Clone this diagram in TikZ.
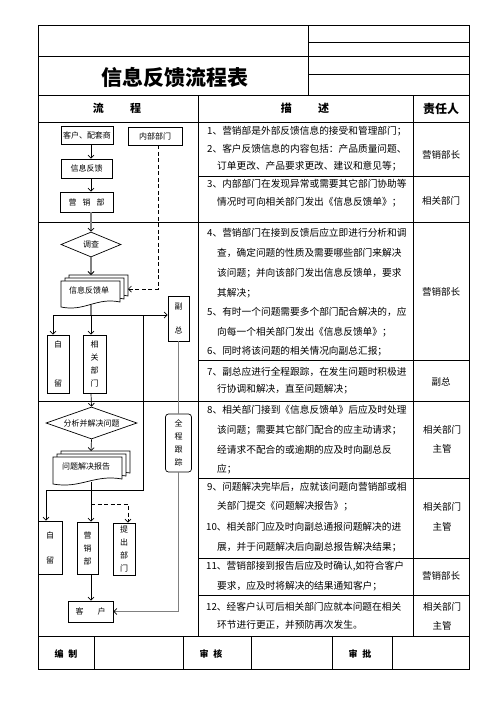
\documentclass[tikz,border=0pt]{standalone}
\usepackage{fontspec}
\setmainfont{Noto Sans CJK SC}
\usetikzlibrary{shapes.geometric,arrows.meta}

\tikzset{
  tbl/.style={line width=0.8pt},
  fline/.style={line width=0.7pt},
  arr/.style={fline, -{Straight Barb[length=3pt,width=6pt]}},
  gline/.style={line width=1.5pt, draw=gray},
  garr/.style={gline, -{Straight Barb[length=3pt,width=6pt,line width=0.8pt,color=black]}},
  dline/.style={fline, dash pattern=on 4pt off 2.5pt},
  fbox/.style={draw, fline, inner sep=0pt, align=center, font=\fontsize{8}{13}\selectfont},
  fdiam/.style={draw, fline, diamond, aspect=2.5, inner sep=0pt, font=\fontsize{8}{8}\selectfont},
  doctext/.style={inner sep=0pt, font=\fontsize{8}{8}\selectfont},
  desc/.style={anchor=west, inner sep=0pt, font=\fontsize{9.7}{9.7}\selectfont},
  duty/.style={inner sep=0pt, font=\fontsize{9.5}{9.5}\selectfont},
  head/.style={inner sep=0pt, font=\fontsize{11}{11}\bfseries},
  foot/.style={inner sep=0pt, font=\fontsize{9}{9}\bfseries},
}

% stacked documents: name, x, y (top left of front sheet), width, height, text
\newcommand{\docstack}[6]{%
  \foreach \dx/\dy in {8/-6,4/-3,0/0}{%
    \draw[fline, fill=white] ({#2+\dx},{#3+\dy}) -- ({#2+\dx+#4},{#3+\dy})
      -- ({#2+\dx+#4},{#3+\dy+#5-5})
      .. controls ({#2+\dx+0.6*#4},{#3+\dy+#5-10}) and ({#2+\dx+0.4*#4},{#3+\dy+#5+5}) .. ({#2+\dx},{#3+\dy+#5})
      -- cycle;
  }
  \node[doctext] (#1) at ({#2+#4/2-1.5},{#3+#5/2-4}) {#6};
  \coordinate (#1-top) at ({#2+8+#4/2},{#3-6});
  \coordinate (#1-bot) at ({#2+#4/2},{#3+#5-2});
  \coordinate (#1-right) at ({#2+#4+8},{#3+#5/2-5});
}

\begin{document}
\begin{tikzpicture}[x=1pt,y=-1pt]
  \useasboundingbox (0,0) rectangle (496,702);

  % table frame
  \draw[tbl] (38,25) rectangle (469,669);
  \draw[tbl] (308,25) -- (308,95);
  \draw[tbl] (308,42.5) -- (469,42.5);
  \draw[tbl] (38,56) -- (469,56);
  \draw[tbl] (308,74) -- (469,74);
  \draw[tbl] (38,95) -- (469,95);
  \draw[tbl] (38,122) -- (469,122);
  \draw[tbl] (198,95) -- (198,636);
  \draw[tbl] (413,95) -- (413,636);
  \draw[tbl] (38,222) -- (469,222);
  \draw[tbl] (38,401) -- (469,401);
  \foreach \yy in {176,360,478,558,595}
    \draw[tbl] (198,\yy) -- (469,\yy);
  \draw[tbl] (38,636) -- (469,636);
  \foreach \xx in {94,183,251,332,392}
    \draw[tbl] (\xx,636) -- (\xx,669);

  % title and heads
  \node[inner sep=0pt, font=\fontsize{21}{21}\bfseries] (title) at (175,77) {信息反馈流程表};
  \node[head] (hflow) at (117,108.5) {流\hspace{2.4em}程};
  \node[head] (hdesc) at (305,108.5) {描\hspace{2.4em}述};
  \node[head, font=\fontsize{12}{12}\bfseries] (hduty) at (441,108.5) {责任人};

  % descriptions
  \node[desc] (t1) at (207,131) {1、营销部是外部反馈信息的接受和管理部门；};
  \node[desc] (t2) at (207,148.5) {2、客户反馈信息的内容包括：产品质量问题、};
  \node[desc] (t2b) at (217,166) {订单更改、产品要求更改、建议和意见等；};
  \node[duty] (d1) at (441,155) {营销部长};

  \node[desc] (t3) at (207,183.5) {3、内部部门在发现异常或需要其它部门协助等};
  \node[desc] (t3b) at (217,202) {情况时可向相关部门发出《信息反馈单》；};
  \node[duty] (d2) at (441,201) {相关部门};

  \node[desc] (t4) at (207,233) {4、营销部门在接到反馈后应立即进行分析和调};
  \node[desc] (t4b) at (217,253) {查，确定问题的性质及需要哪些部门来解决};
  \node[desc] (t4c) at (217,273) {该问题；并向该部门发出信息反馈单，要求};
  \node[desc] (t4d) at (217,293) {其解决；};
  \node[desc] (t5) at (207,312) {5、有时一个问题需要多个部门配合解决的，应};
  \node[desc] (t5b) at (217,332) {向每一个相关部门发出《信息反馈单》；};
  \node[desc] (t6) at (207,351) {6、同时将该问题的相关情况向副总汇报；};
  \node[duty] (d3) at (441,292) {营销部长};

  \node[desc] (t7) at (207,371.5) {7、副总应进行全程跟踪，在发生问题时积极进};
  \node[desc] (t7b) at (217,389) {行协调和解决，直至问题解决；};
  \node[duty] (d4) at (441,381.5) {副总};

  \node[desc] (t8) at (207,410) {8、相关部门接到《信息反馈单》后应及时处理};
  \node[desc] (t8b) at (217,430) {该问题；需要其它部门配合的应主动请求；};
  \node[desc] (t8c) at (217,450) {经请求不配合的或逾期的应及时向副总反};
  \node[desc] (t8d) at (217,469) {应；};
  \node[duty] (d5) at (442,430) {相关部门};
  \node[duty] (d5b) at (442,449) {主管};

  \node[desc] (t9) at (207,486.5) {9、问题解决完毕后，应就该问题向营销部或相};
  \node[desc] (t9b) at (217,506.5) {关部门提交《问题解决报告》；};
  \node[desc] (t10) at (206,527) {10、相关部门应及时向副总通报问题解决的进};
  \node[desc] (t10b) at (217,547) {展，并于问题解决后向副总报告解决结果；};
  \node[duty] (d6) at (442,506.5) {相关部门};
  \node[duty] (d6b) at (442,526.5) {主管};

  \node[desc] (t11) at (206,566.5) {11、营销部接到报告后应及时确认,如符合客户};
  \node[desc] (t11b) at (217,586.5) {要求，应及时将解决的结果通知客户；};
  \node[duty] (d7) at (441,576) {营销部长};

  \node[desc] (t12) at (206,607) {12、经客户认可后相关部门应就本问题在相关};
  \node[desc] (t12b) at (217,625) {环节进行更正，并预防再次发生。};
  \node[duty] (d8) at (442,607) {相关部门};
  \node[duty] (d8b) at (442,626) {主管};

  % sign-off row
  \node[foot] (fbz) at (66,654) {编\hspace{5pt}制};
  \node[foot] (fsh) at (211,654) {审\hspace{5pt}核};
  \node[foot] (fsp) at (360,654) {审\hspace{5pt}批};

  % flow chart
  \coordinate (trunk) at (91,0);
  \coordinate (dashx) at (158,0);
  \node[fbox, minimum width=52pt, minimum height=18pt] (kehu) at (87,135) {客户、配套商};
  \node[fbox, minimum width=54pt, minimum height=18pt] (nbbm) at (155,136) {内部部门};
  \node[fbox, minimum width=51pt, minimum height=19pt] (xxfk) at (86.5,168.5) {信息反馈};
  \node[fbox, minimum width=53pt, minimum height=20pt] (yxb) at (86.5,202) {营\hspace{6pt}销\hspace{6pt}部};
  \node[fdiam, minimum width=60pt, minimum height=25pt] (diaocha) at (91,244.5) {调查};
  \docstack{fbsheet}{61}{281}{59}{26}{信息反馈单}
  \node[fbox, minimum width=21pt, minimum height=45pt] (fz) at (178.5,318.5) {副\\[11pt]总};
  \node[fbox, minimum width=22pt, minimum height=58pt] (zl1) at (58,364) {自\\[26pt]留};
  \node[fbox, minimum width=23pt, minimum height=58pt] (xgbm) at (94.5,364) {相\\关\\部\\门};
  \node[fdiam, minimum width=91pt, minimum height=32pt] (fenxi) at (91.5,423) {分析并解决问题};
  \docstack{report}{53}{457}{69}{27}{问题解决报告}
  \node[fbox, minimum width=24pt, minimum height=53pt] (zl2) at (50,547.5) {自\\[12pt]留};
  \node[fbox, minimum width=21pt, minimum height=52pt] (yxb2) at (87.5,548) {营\\销\\部};
  \node[fbox, minimum width=22pt, minimum height=52pt] (tcbm) at (124,549) {提\\出\\部\\门};
  \node[fbox, rounded corners=3pt, minimum width=26pt, minimum height=58pt] (qcgz) at (178.5,443) {全\\程\\跟\\踪};
  \node[fbox, minimum width=45pt, minimum height=21pt] (kehu2) at (90.5,611.5) {客\hspace{14pt}户};

  \coordinate (split) at (91,315);
  \coordinate (lb) at (53,315);
  \coordinate (rb) at (143,315);
  \coordinate (lb2) at (46,490);
  \coordinate (dj) at (91,504);

  \draw[arr] (kehu.south -| trunk) -- (xxfk.north -| trunk);
  \draw[arr] (xxfk.south -| trunk) -- (yxb.north -| trunk);
  \draw[garr] (yxb.south -| trunk) -- (diaocha.north);
  \draw[garr] (diaocha.south) -- (fbsheet-top -| trunk);
  \draw[dline, -{Straight Barb[length=3pt,width=6pt]}] (nbbm.south -| dashx) |- (fbsheet-right);
  \draw[gline] (fbsheet-bot -| trunk) -- (split);
  \draw[arr] (lb) -- (lb -| fz.west);
  \draw[arr] (lb) -- (lb |- zl1.north);
  \draw[arr] (split) -- (split |- xgbm.north);
  \draw[fline] (rb) |- (lb2);
  \draw[arr] (lb2) -- (lb2 |- zl2.north);
  \draw[arr] (xgbm.south -| trunk) -- (fenxi.north);
  \draw[arr] (fenxi.south) -- (report-top -| trunk);
  \draw[arr] (report-bot -| trunk) -- (yxb2.north -| trunk);
  \draw[dline, -{Straight Barb[length=3pt,width=6pt]}] (dj) -| ([xshift=4pt]tcbm.north);
  \draw[arr] (yxb2.south -| trunk) -- (kehu2.north -| trunk);
  \draw[gline] (fz.south) -- (qcgz.north);
  \draw[garr] (qcgz.south) |- (kehu2.east);
\end{tikzpicture}
\end{document}
